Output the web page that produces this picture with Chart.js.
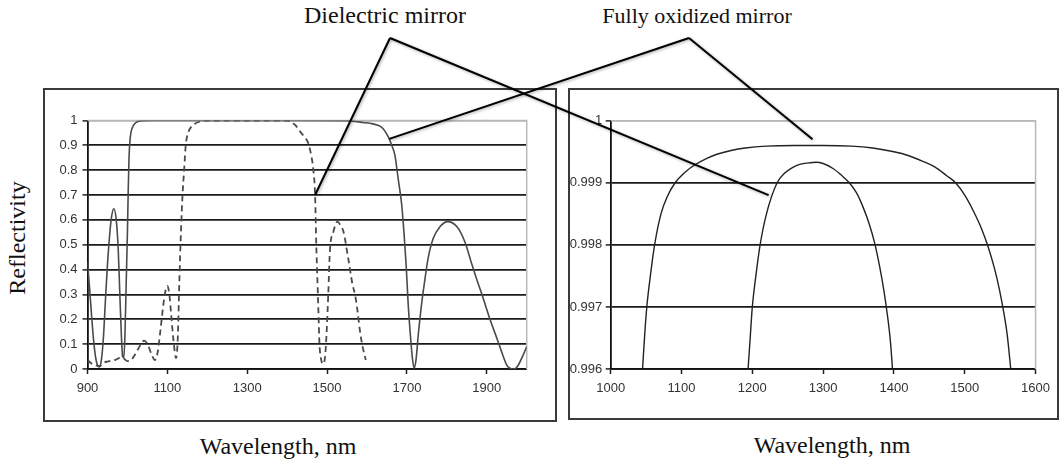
<!DOCTYPE html>
<html><head><meta charset="utf-8">
<script src="https://cdn.jsdelivr.net/npm/chart.js@4.4.0/dist/chart.umd.min.js"></script>
<style>
html,body{margin:0;padding:0;background:#fff;width:1062px;height:459px;overflow:hidden;position:relative;}
.box{position:absolute;box-sizing:border-box;border:2px solid #3a3a3a;}
.cw{position:absolute;}
.t{position:absolute;font-family:"Liberation Serif","Times New Roman",serif;font-size:24px;line-height:24px;color:#111;white-space:nowrap;}
#ov{position:absolute;left:0;top:0;pointer-events:none;z-index:10;}
</style></head><body>
<div class="box" style="left:43px;top:88px;width:514px;height:334px"></div>
<div class="box" style="left:568px;top:88px;width:491px;height:332px"></div>
<div class="cw" style="left:45px;top:90px;width:510px;height:330px"><canvas id="cL" width="510" height="330"></canvas></div>
<div class="cw" style="left:570px;top:90px;width:487px;height:328px"><canvas id="cR" width="487" height="328"></canvas></div>
<div class="t" id="lab0" style="left:385px;top:3px;transform:translateX(-50%)">Dielectric mirror</div>
<div class="t" id="lab1" style="left:697px;top:4px;font-size:22px;transform:translateX(-50%)">Fully oxidized mirror</div>
<div class="t" style="left:17px;top:238px;transform:translate(-50%,-50%) rotate(-90deg)">Reflectivity</div>
<div class="t" style="left:278px;top:434px;transform:translateX(-50%)">Wavelength, nm</div>
<div class="t" style="left:832px;top:433px;transform:translateX(-50%)">Wavelength, nm</div>
<canvas id="ov" width="1062" height="459"></canvas>
<script>
// ---------- data ----------
const leftXTicks = [900, 1100, 1300, 1500, 1700, 1900];
const leftYTicks = [0, 0.1, 0.2, 0.3, 0.4, 0.5, 0.6, 0.7, 0.8, 0.9, 1];
const rightXTicks = [1000, 1100, 1200, 1300, 1400, 1500, 1600];
const rightYTicks = [0.996, 0.997, 0.998, 0.999, 1];

// Fully oxidized mirror (solid), left panel
const oxX = [900,905,910,915,920,925,930,935,940,945,950,955,960,966,972,977,981,985,988,991,994,997,1000,1002,1004,1007,1010,1015,1020,1025,1031,1040,1060,1200,1400,1550,1570,1590,1610,1625,1640,1653,1662,1670,1678,1687,1693,1698,1700,1703,1709,1714,1718,1723,1728,1737,1745,1753,1766,1783,1802,1825,1845,1862,1875,1891,1908,1925,1937,1950,1958,1966,1973,1979,1991,2000];
const oxY = [0.43,0.33,0.22,0.12,0.05,0.015,0.008,0.04,0.13,0.28,0.42,0.53,0.61,0.645,0.6,0.48,0.3,0.13,0.05,0.045,0.15,0.35,0.55,0.72,0.85,0.93,0.96,0.98,0.99,0.995,0.998,0.999,1.0,1.0,1.0,0.999,0.996,0.992,0.988,0.982,0.968,0.935,0.9,0.86,0.767,0.66,0.54,0.42,0.36,0.265,0.13,0.04,0.003,0.04,0.13,0.265,0.36,0.445,0.526,0.573,0.593,0.573,0.512,0.425,0.36,0.285,0.2,0.125,0.07,0.016,0.003,0.0,0.004,0.016,0.056,0.09];

// Dielectric mirror (dashed), left panel
const dieX = [900,910,920,930,940,950,960,970,981,989,1000,1010,1020,1030,1042,1052,1060,1069,1076,1083,1090,1096,1100,1105,1110,1115,1122,1126,1130,1134,1138,1142,1146,1152,1160,1170,1180,1190,1200,1400,1407,1420,1436,1446,1453,1461,1465,1470,1473,1476,1478,1481,1485,1490,1495,1499,1503,1507,1516,1526,1533,1541,1553,1564,1570,1576,1582,1589,1597];
const dieY = [0.036,0.022,0.015,0.012,0.025,0.03,0.033,0.037,0.045,0.044,0.032,0.038,0.06,0.09,0.114,0.095,0.06,0.036,0.07,0.16,0.26,0.32,0.334,0.3,0.21,0.12,0.044,0.12,0.35,0.55,0.7,0.8,0.9,0.95,0.975,0.988,0.995,0.999,1.0,1.0,0.997,0.982,0.948,0.93,0.908,0.854,0.81,0.7,0.5,0.35,0.25,0.1,0.04,0.02,0.05,0.15,0.3,0.472,0.553,0.593,0.58,0.553,0.445,0.338,0.3,0.237,0.157,0.09,0.036];

// Right panel (zoom near R = 1)
const oxRX = [1045,1048,1051,1056,1062,1071,1080,1091,1105,1119,1135,1150,1170,1190,1220,1260,1300,1340,1370,1400,1420,1440,1457,1475,1487,1500,1512,1523,1533,1542,1549,1555,1560,1565];
const oxRY = [0.996,0.99655,0.997,0.9975,0.998,0.9985,0.99878,0.999,0.99917,0.99929,0.99939,0.99946,0.99952,0.99956,0.99959,0.9996,0.9996,0.99959,0.99956,0.9995,0.99944,0.99935,0.99926,0.99911,0.999,0.9988,0.99855,0.99828,0.99797,0.99762,0.99728,0.99692,0.99655,0.996];
const dieRX = [1194,1197,1200,1205,1211,1220,1235,1245,1256,1268,1280,1290,1300,1314,1326,1337,1347,1356,1365,1373,1380,1386,1391,1395,1398];
const dieRY = [0.996,0.9965,0.997,0.9975,0.998,0.9985,0.999,0.99915,0.99924,0.9993,0.99932,0.99933,0.99931,0.99923,0.99912,0.999,0.99884,0.99862,0.99834,0.99802,0.99764,0.99725,0.99685,0.99645,0.996];

// Callout labels and their target points [left panel x,y] and [right panel x,y]
const calloutLabels = ['Dielectric mirror', 'Fully oxidized mirror'];
const calloutLeft = [[1470, 0.70], [1656, 0.926]];
const calloutRight = [[1223, 0.9988], [1285, 0.9997]];

// ---------- helpers ----------
const pts = (xs, ys) => xs.map((x, i) => ({x: x, y: ys[i]}));
const tickFont = {family: '"Liberation Sans Narrow", "Arial Narrow", "Liberation Sans", Arial, sans-serif', size: 13};
const borderPlugin = {
  id: 'plotBorder',
  beforeDatasetsDraw(chart) {
    const a = chart.chartArea, c = chart.ctx;
    c.save();
    c.strokeStyle = '#b8b8b8';
    c.lineWidth = 1.5;
    c.beginPath();
    c.moveTo(a.left, a.top); c.lineTo(a.right, a.top); c.lineTo(a.right, a.bottom);
    c.stroke();
    c.restore();
  }
};

function makeChart(id, cfg) {
  return new Chart(document.getElementById(id), {
    type: 'line',
    data: {datasets: cfg.datasets},
    options: {
      responsive: false, animation: false, devicePixelRatio: 1,
      layout: {padding: cfg.pad},
      plugins: {legend: {display: false}, tooltip: {enabled: false}},
      elements: {point: {radius: 0}, line: {cubicInterpolationMode: 'monotone'}},
      scales: {
        x: {
          type: 'linear', min: cfg.xmin, max: cfg.xmax,
          afterBuildTicks: s => { s.ticks = cfg.xTicks.map(v => ({value: v})); },
          afterFit: s => { s.height = cfg.xh; },
          ticks: {font: tickFont, color: '#333', padding: 7, maxRotation: 0, autoSkip: false, callback: v => String(v)},
          grid: {drawOnChartArea: false, drawTicks: true, tickLength: 5, tickColor: '#222', tickWidth: 1.5},
          border: {color: '#111', width: 1.8}
        },
        y: {
          type: 'linear', min: cfg.ymin, max: cfg.ymax,
          afterBuildTicks: s => { s.ticks = cfg.yTicks.map(v => ({value: v})); },
          afterFit: s => { s.width = cfg.yw; },
          ticks: {font: tickFont, color: '#333', padding: cfg.ypad, autoSkip: false, callback: v => String(+v.toFixed(cfg.dec))},
          grid: {
            color: c => (c.tick && Math.abs(c.tick.value - cfg.ymax) < 1e-9) ? '#b8b8b8' : '#1a1a1a',
            lineWidth: 1.8, drawTicks: true, tickLength: 5, tickColor: '#222', tickWidth: 1.5
          },
          border: {color: '#111', width: 1.8}
        }
      }
    },
    plugins: [borderPlugin]
  });
}

const chartL = makeChart('cL', {
  xmin: 900, xmax: 2000, ymin: 0, ymax: 1, xTicks: leftXTicks, yTicks: leftYTicks, dec: 1,
  pad: {left: 0, top: 30.5, right: 28.3, bottom: 0}, yw: 42.5, xh: 51, ypad: 5,
  datasets: [
    {data: pts(dieX, dieY), borderColor: '#4a4a4a', borderWidth: 1.8, borderDash: [6, 4]},
    {data: pts(oxX, oxY), borderColor: '#4a4a4a', borderWidth: 1.6}
  ]
});
const chartR = makeChart('cR', {
  xmin: 1000, xmax: 1600, ymin: 0.996, ymax: 1, xTicks: rightXTicks, yTicks: rightYTicks, dec: 3,
  pad: {left: 0, top: 30.7, right: 14.3, bottom: 0}, yw: 40.7, xh: 49, ypad: 3.5,
  datasets: [
    {data: pts(oxRX, oxRY), borderColor: '#222', borderWidth: 1.4},
    {data: pts(dieRX, dieRY), borderColor: '#222', borderWidth: 1.4}
  ]
});

// ---------- callout lines ----------
const apexShift = [5, -8];
function pagePoint(chart, v) {
  const r = chart.canvas.getBoundingClientRect();
  return [r.left + chart.scales.x.getPixelForValue(v[0]), r.top + chart.scales.y.getPixelForValue(v[1])];
}
const ov = document.getElementById('ov').getContext('2d');
ov.strokeStyle = '#000';
ov.lineWidth = 2;
ov.shadowColor = 'rgba(0,0,0,0.35)';
ov.shadowBlur = 3;
ov.shadowOffsetX = 1;
ov.shadowOffsetY = 1;
calloutLabels.forEach((name, i) => {
  const lr = document.getElementById('lab' + i).getBoundingClientRect();
  const apex = [lr.left + lr.width / 2 + apexShift[i], 38];
  [pagePoint(chartL, calloutLeft[i]), pagePoint(chartR, calloutRight[i])].forEach(p => {
    ov.beginPath();
    ov.moveTo(apex[0], apex[1]);
    ov.lineTo(p[0], p[1]);
    ov.stroke();
  });
});
</script>
</body></html>
